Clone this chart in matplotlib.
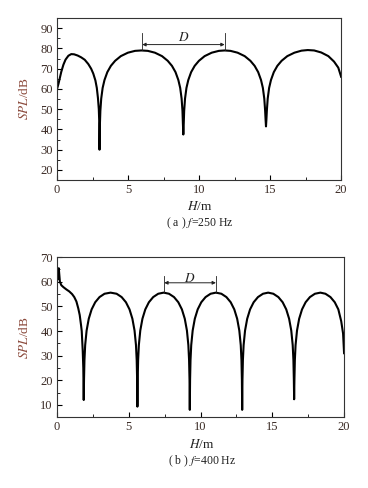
import numpy as np
import matplotlib
matplotlib.use('Agg')
from matplotlib import pyplot as plt
from matplotlib.ticker import MultipleLocator

plt.rcParams['font.family'] = ['Liberation Serif', 'DejaVu Serif']
plt.rcParams['mathtext.fontset'] = 'stix'

# (a) f = 250 Hz
h_250 = [0, 0.1, 0.2, 0.3, 0.45, 0.6, 0.8, 1.0, 1.2, 1.45, 1.7, 1.95, 2.2, 2.4, 2.55, 2.7, 2.8, 2.88, 2.94, 2.97, 2.99,
         3.02, 3.05, 3.11, 3.21, 3.34, 3.54, 3.79, 4.09, 4.49, 4.99, 5.49, 5.94,
         6.39, 6.89, 7.39, 7.79, 8.09, 8.34, 8.54, 8.67, 8.77, 8.83, 8.86, 8.89,
         8.92, 8.95, 9.01, 9.11, 9.24, 9.44, 9.69, 9.99, 10.39, 10.89, 11.39, 11.8,
         12.21, 12.71, 13.21, 13.61, 13.91, 14.16, 14.36, 14.49, 14.59, 14.65, 14.68, 14.71,
         14.74, 14.77, 14.83, 14.93, 15.06, 15.26, 15.51, 15.81, 16.21, 16.71, 17.21, 17.65,
         18.1, 18.6, 19.1, 19.5, 19.8, 20.0]
spl_250 = [60, 62.5, 65.5, 68.5, 72, 74.5, 76.4, 77.2, 77.1, 76.5, 75.6, 74.4, 72.3, 70.0, 67.6, 64.2, 60.5, 55.5, 50, 44, 30,
           43, 49.2, 55.2, 60.5, 64.4, 68.3, 71.4, 73.9, 76.2, 77.9, 78.8, 79.0,
           78.8, 77.9, 76.2, 73.9, 71.4, 68.3, 64.4, 60.5, 55.2, 49.2, 43, 37.5,
           43, 49.2, 55.2, 60.5, 64.4, 68.3, 71.4, 73.9, 76.2, 77.9, 78.8, 79.0,
           78.8, 77.9, 76.2, 73.9, 71.4, 68.3, 64.4, 60.5, 55.2, 49.2, 45, 41.5,
           45, 49.2, 55.2, 60.5, 64.4, 68.3, 71.4, 73.9, 76.2, 77.9, 78.9, 79.2,
           79.0, 78.0, 76.2, 73.5, 70.5, 66]

# (b) f = 400 Hz
h_400 = [0, 0.05, 0.12, 0.2, 0.3, 0.45, 0.65, 0.85, 1.05, 1.2, 1.35, 1.48, 1.58, 1.67, 1.72, 1.79, 1.83, 1.86,
         1.88, 1.91, 1.96, 2.06, 2.21, 2.41, 2.66, 2.96, 3.31, 3.73,
         4.15, 4.50, 4.80, 5.05, 5.25, 5.40, 5.50, 5.55, 5.58, 5.60,
         5.62, 5.65, 5.70, 5.80, 5.95, 6.15, 6.40, 6.70, 7.05, 7.43,
         7.80, 8.15, 8.45, 8.70, 8.90, 9.05, 9.15, 9.20, 9.23, 9.25,
         9.27, 9.30, 9.35, 9.45, 9.60, 9.80, 10.05, 10.35, 10.70, 11.07,
         11.45, 11.80, 12.10, 12.35, 12.55, 12.70, 12.80, 12.85, 12.88, 12.90,
         12.92, 12.95, 13.00, 13.10, 13.25, 13.45, 13.70, 14.00, 14.35, 14.71,
         15.07, 15.42, 15.72, 15.97, 16.17, 16.32, 16.42, 16.47, 16.50, 16.52,
         16.54, 16.57, 16.62, 16.72, 16.87, 17.07, 17.32, 17.62, 17.97, 18.35,
         18.70, 19.05, 19.35, 19.60, 19.80, 19.93, 20.0]
spl_400 = [65.5, 61, 65.5, 60, 58.6, 57.8, 56.9, 56.1, 55.0, 53.8, 52.0, 49.2, 46.5, 42.5, 40, 32, 25, 12,
           20.3, 28.2, 34.3, 40.2, 45.0, 48.8, 51.7, 53.8, 55.15, 55.6,
           55.15, 53.8, 51.7, 48.8, 45.0, 40.2, 34.3, 28.2, 20.3, 9.3,
           20.3, 28.2, 34.3, 40.2, 45.0, 48.8, 51.7, 53.8, 55.15, 55.6,
           55.15, 53.8, 51.7, 48.8, 45.0, 40.2, 34.3, 28.2, 20.3, 8,
           20.3, 28.2, 34.3, 40.2, 45.0, 48.8, 51.7, 53.8, 55.15, 55.6,
           55.15, 53.8, 51.7, 48.8, 45.0, 40.2, 34.3, 28.2, 20.3, 8,
           20.3, 28.2, 34.3, 40.2, 45.0, 48.8, 51.7, 53.8, 55.15, 55.6,
           55.15, 53.8, 51.7, 48.8, 45.0, 40.2, 34.3, 28.2, 20.3, 12.3,
           20.3, 28.2, 34.3, 40.2, 45.0, 48.8, 51.7, 53.8, 55.15, 55.6,
           55.15, 53.8, 51.7, 48.8, 44.0, 39.0, 31.0]

# D marker: (start, end, arrow level, top of ticks)
d_250 = (6.0, 11.8, 81.9, 87.5)
d_400 = (7.47, 11.07, 59.6, 62.2)

tick_col = '#3a2a24'
ylab_col = '#8b4a3c'


def style(ax, xlim, ylim):
    ax.set_xlim(*xlim)
    ax.set_ylim(*ylim)
    ax.xaxis.set_major_locator(MultipleLocator(5))
    ax.xaxis.set_minor_locator(MultipleLocator(2.5))
    ax.yaxis.set_major_locator(MultipleLocator(10))
    ax.yaxis.set_minor_locator(MultipleLocator(5))
    ax.tick_params(which='both', direction='in', top=False, right=False,
                   labelsize=9, labelcolor=tick_col, pad=3)
    ax.tick_params(which='major', length=3.5, width=0.8)
    ax.tick_params(which='minor', length=2, width=0.6)
    for s in ax.spines.values():
        s.set_linewidth(0.8)
        s.set_color('#333333')
    ax.set_ylabel('$SPL$/dB', fontsize=9.5, color=ylab_col)
    ax.yaxis.set_label_coords(-0.09, 0.5)


def dmark(ax, d, lo):
    x0, x1, ya, yt = d
    ax.plot([x0, x0], [lo, yt], color='#222222', lw=0.6)
    ax.plot([x1, x1], [lo, yt], color='#222222', lw=0.6)
    ax.annotate('', xy=(x0, ya), xytext=(x1, ya),
                arrowprops=dict(arrowstyle='<|-|>', color='#222222', lw=0.7,
                                mutation_scale=5, shrinkA=0, shrinkB=0))
    ax.text((x0 + x1) / 2, ya + (yt - ya) * 0.6, '$D$', ha='center', va='center',
            fontsize=9.5, color='#222222')


fig = plt.figure(figsize=(3.68, 4.88), dpi=100)

ax1 = fig.add_axes([0.155, 0.631, 0.772, 0.332])
ax1.plot(h_250, spl_250, color='black', lw=1.5, solid_joinstyle='round')
style(ax1, (0, 20), (15, 95))
dmark(ax1, d_250, 79.0)
fig.text(0.543, 0.576, '$H$/m', ha='center', va='center', fontsize=9.5, color='#222222')
fig.text(0.543, 0.543, '( a ) $f$=250 Hz', ha='center', va='center', fontsize=8.5, color='#222222')

ax2 = fig.add_axes([0.155, 0.145, 0.78, 0.328])
ax2.plot(h_400, spl_400, color='black', lw=1.5, solid_joinstyle='round')
style(ax2, (0, 20), (5, 70))
dmark(ax2, d_400, 55.6)
fig.text(0.548, 0.09, '$H$/m', ha='center', va='center', fontsize=9.5, color='#222222')
fig.text(0.55, 0.055, '( b ) $f$=400 Hz', ha='center', va='center', fontsize=8.5, color='#222222')

fig.savefig('out.png', dpi=100)
